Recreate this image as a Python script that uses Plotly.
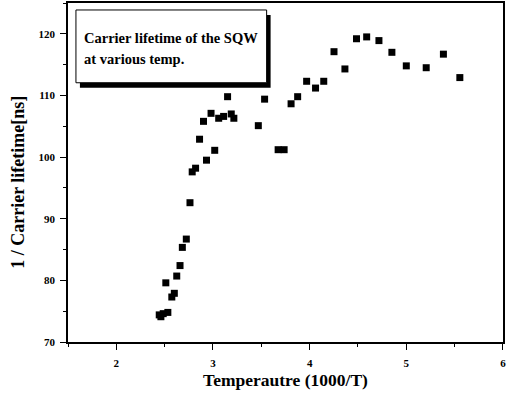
import plotly.graph_objects as go

temp_x = [2.444, 2.461, 2.485, 2.533, 2.512, 2.574, 2.600, 2.625, 2.659, 2.683, 2.724, 2.762,
          2.785, 2.820, 2.861, 2.902, 2.933, 2.980, 3.018, 3.059, 3.110, 3.151, 3.189, 3.216,
          3.469, 3.534, 3.674, 3.736, 3.808, 3.876, 3.969, 4.061, 4.146, 4.252, 4.365,
          4.485, 4.590, 4.717, 4.851, 5.000, 5.206, 5.384, 5.554]
inv_lifetime = [74.4, 74.1, 74.6, 74.8, 79.6, 77.3, 77.9, 80.7, 82.4, 85.35, 86.7, 92.6,
                97.6, 98.2, 102.9, 105.8, 99.5, 107.1, 101.1, 106.3, 106.6, 109.8, 107.0, 106.3,
                105.1, 109.4, 101.2, 101.2, 108.65, 109.8, 112.3, 111.2, 112.3, 117.1, 114.3,
                119.2, 119.5, 118.9, 117.0, 114.8, 114.5, 116.7, 112.9]

x_ticks = [2, 3, 4, 5, 6]
y_ticks = [70, 80, 90, 100, 110, 120]

title_lines = ["Carrier lifetime of the SQW", "at various temp."]
x_title = "Temperautre (1000/T)"
y_title = "1 / Carrier lifetime[ns]"

FONT = "Liberation Serif"

fig = go.Figure()
fig.add_trace(go.Scatter(
    x=temp_x, y=inv_lifetime, mode="markers",
    marker=dict(symbol="square", size=7, color="black"),
    showlegend=False,
))

# plot area: l=68, r=1, t=2, b=56 -> width 438, height 340
W, H = 507, 398
L, R, T, B = 68, 1, 2, 56
pw, ph = W - L - R, H - T - B

def px(xp):
    return (xp - L) / pw

def py(yp):
    return (H - B - yp) / ph

shapes = [
    # shadow
    dict(type="rect", xref="paper", yref="paper",
         x0=px(80), x1=px(272), y0=py(87), y1=py(14),
         fillcolor="black", line=dict(width=0), layer="above"),
    # box
    dict(type="rect", xref="paper", yref="paper",
         x0=px(76), x1=px(268), y0=py(82), y1=py(9),
         fillcolor="white", line=dict(color="black", width=1), layer="above"),
]

annotations = []
for line, yp in zip(title_lines, [37, 58]):
    annotations.append(dict(
        text="<b>" + line + "</b>", xref="paper", yref="paper",
        x=px(82), y=py(yp), xanchor="left", yanchor="middle", showarrow=False,
        font=dict(family=FONT, size=14.5, color="black"),
    ))
# y-axis title
annotations.append(dict(
    text="<b>" + y_title + "</b>", xref="paper", yref="paper",
    x=px(18), y=py(182), xanchor="center", yanchor="middle", textangle=-90,
    showarrow=False, font=dict(family=FONT, size=18, color="black"),
))

axis_common = dict(
    showgrid=False, zeroline=False, showline=True, linecolor="black", linewidth=1.5,
    mirror=True, ticks="outside", ticklen=6, tickwidth=1.2, tickcolor="black",
    tickfont=dict(family=FONT, size=11, color="black", weight="bold"),
    ticklabeloverflow="allow",
)

fig.update_layout(
    width=W, height=H,
    margin=dict(l=L, r=R, t=T, b=B),
    paper_bgcolor="white", plot_bgcolor="white",
    shapes=shapes, annotations=annotations,
    xaxis=dict(range=[1.5, 6.0005], tickvals=x_ticks, ticktext=[str(v) for v in x_ticks],
               minor=dict(ticks="outside", ticklen=3, dtick=0.5, tick0=1.5, tickcolor="black"),
               ticklabelstandoff=4,
               title=dict(text=x_title, standoff=6,
                          font=dict(family=FONT, size=17.5, color="black", weight="bold")),
               **axis_common),
    yaxis=dict(range=[70, 125], tickvals=y_ticks, ticktext=[str(v) for v in y_ticks],
               minor=dict(ticks="outside", ticklen=3, dtick=5, tick0=70, tickcolor="black"),
               ticklabelstandoff=3,
               **axis_common),
)

fig.write_html("out.html")
